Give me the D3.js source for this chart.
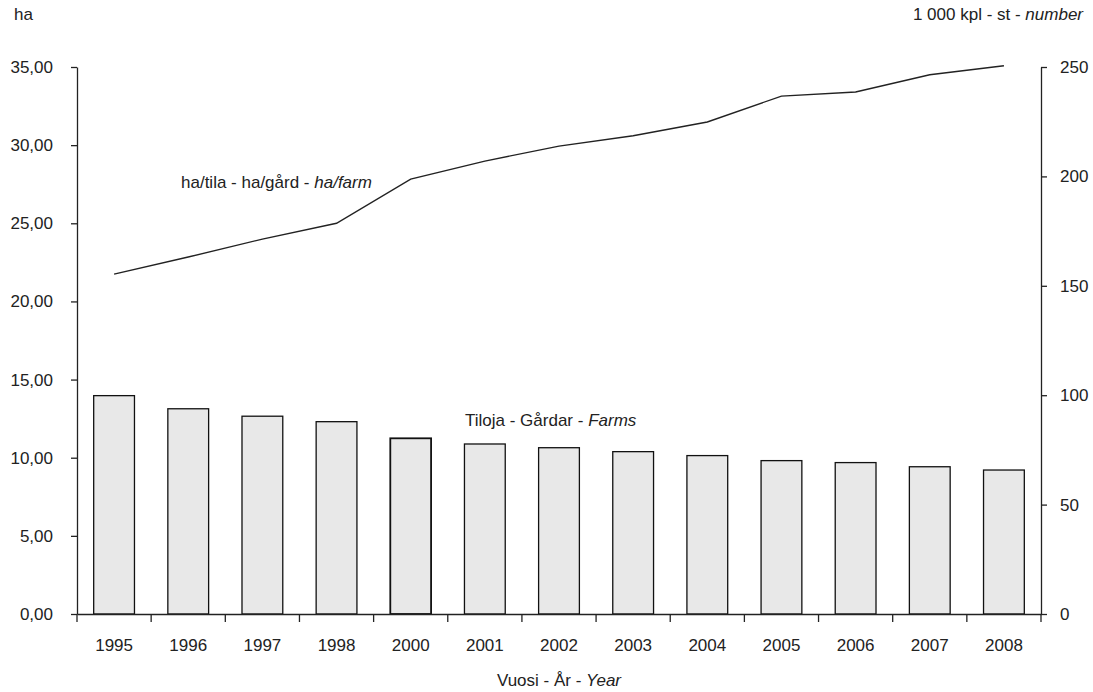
<!DOCTYPE html>
<html><head><meta charset="utf-8">
<script src="https://cdn.jsdelivr.net/npm/d3@7"></script>
<style>body{margin:0;background:#fff}svg{display:block}text{font-family:"Liberation Sans",Arial,sans-serif;fill:#222}</style>
</head><body>
<svg id="c" width="1093" height="692"></svg>
<script>
const years = ["1995","1996","1997","1998","2000","2001","2002","2003","2004","2005","2006","2007","2008"];
const farms = [99.8,93.8,90.4,87.9,80.3,77.7,76.0,74.2,72.4,70.1,69.2,67.3,65.8];
const haPerFarm = [21.75,22.84,23.99,25.0,27.83,28.98,29.94,30.6,31.48,33.14,33.4,34.5,35.08];
const leftTicks = [0,5,10,15,20,25,30,35];
const rightTicks = [0,50,100,150,200,250];

const svg = d3.select("#c");
const L = 77, R = 1041, T = 67, B = 614;
const FS = 17;
const x = d3.scaleBand().domain(years).range([L, R]).paddingInner(0.45).paddingOuter(0.225);
const yL = d3.scaleLinear().domain([0, 35]).range([B, T]);
const yR = d3.scaleLinear().domain([0, 250]).range([B, T]);
const fmt = v => d3.format(".2f")(v).replace(".", ",");

// bars
svg.append("g").selectAll("rect").data(years).join("rect")
  .attr("x", d => x(d)).attr("width", x.bandwidth())
  .attr("y", (d,i) => yR(farms[i])).attr("height", (d,i) => B - yR(farms[i]))
  .attr("fill", "#e8e8e8").attr("stroke", "#111").attr("stroke-width", (d) => d === "2000" ? 1.8 : 1.3);

// line
const line = d3.line().x((d,i) => x(years[i]) + x.bandwidth()/2).y(d => yL(d));
svg.append("path").datum(haPerFarm).attr("d", line).attr("fill", "none").attr("stroke", "#222").attr("stroke-width", 1.4);

// left axis
const gl = svg.append("g").attr("transform", `translate(${L},0)`)
  .call(d3.axisLeft(yL).tickValues(leftTicks).tickFormat(fmt).tickSize(6).tickSizeOuter(0).tickPadding(18));
// right axis
const gr = svg.append("g").attr("transform", `translate(${R},0)`)
  .call(d3.axisRight(yR).tickValues(rightTicks).tickSize(6).tickSizeOuter(0).tickPadding(13));
// bottom axis
const gb = svg.append("g").attr("transform", `translate(0,${B})`)
  .call(d3.axisBottom(x).tickSize(0).tickSizeOuter(0).tickPadding(25));
[gl, gr, gb].forEach(g => {
  g.select(".domain").attr("stroke", "#222").attr("stroke-width", 1.3);
  g.selectAll(".tick line").attr("stroke", "#222").attr("stroke-width", 1.3);
  g.selectAll("text").attr("font-size", FS).attr("fill", "#222").attr("font-family", '"Liberation Sans",Arial,sans-serif');
});
// x boundary ticks
const edges = years.map(d => x(d) - x.step()*x.paddingInner()/2).concat([R]);
svg.append("g").selectAll("line").data(edges).join("line")
  .attr("x1", d => d).attr("x2", d => d).attr("y1", B).attr("y2", B + 8)
  .attr("stroke", "#222").attr("stroke-width", 1.3);

// texts
svg.append("text").attr("x", 14).attr("y", 20).attr("font-size", FS).text("ha");
const rt = svg.append("text").attr("x", 1083).attr("y", 20).attr("font-size", FS).attr("text-anchor", "end");
rt.append("tspan").text("1 000 kpl - st - ");
rt.append("tspan").attr("font-style", "italic").text("number");
const t1 = svg.append("text").attr("x", 181).attr("y", 188).attr("font-size", FS);
t1.append("tspan").text("ha/tila - ha/gård - ");
t1.append("tspan").attr("font-style", "italic").text("ha/farm");
const t2 = svg.append("text").attr("x", 465).attr("y", 426).attr("font-size", FS);
t2.append("tspan").text("Tiloja - Gårdar - ");
t2.append("tspan").attr("font-style", "italic").text("Farms");
const t3 = svg.append("text").attr("x", (L+R)/2).attr("y", 686).attr("font-size", FS).attr("text-anchor", "middle");
t3.append("tspan").text("Vuosi - År - ");
t3.append("tspan").attr("font-style", "italic").text("Year");
</script>
</body></html>
